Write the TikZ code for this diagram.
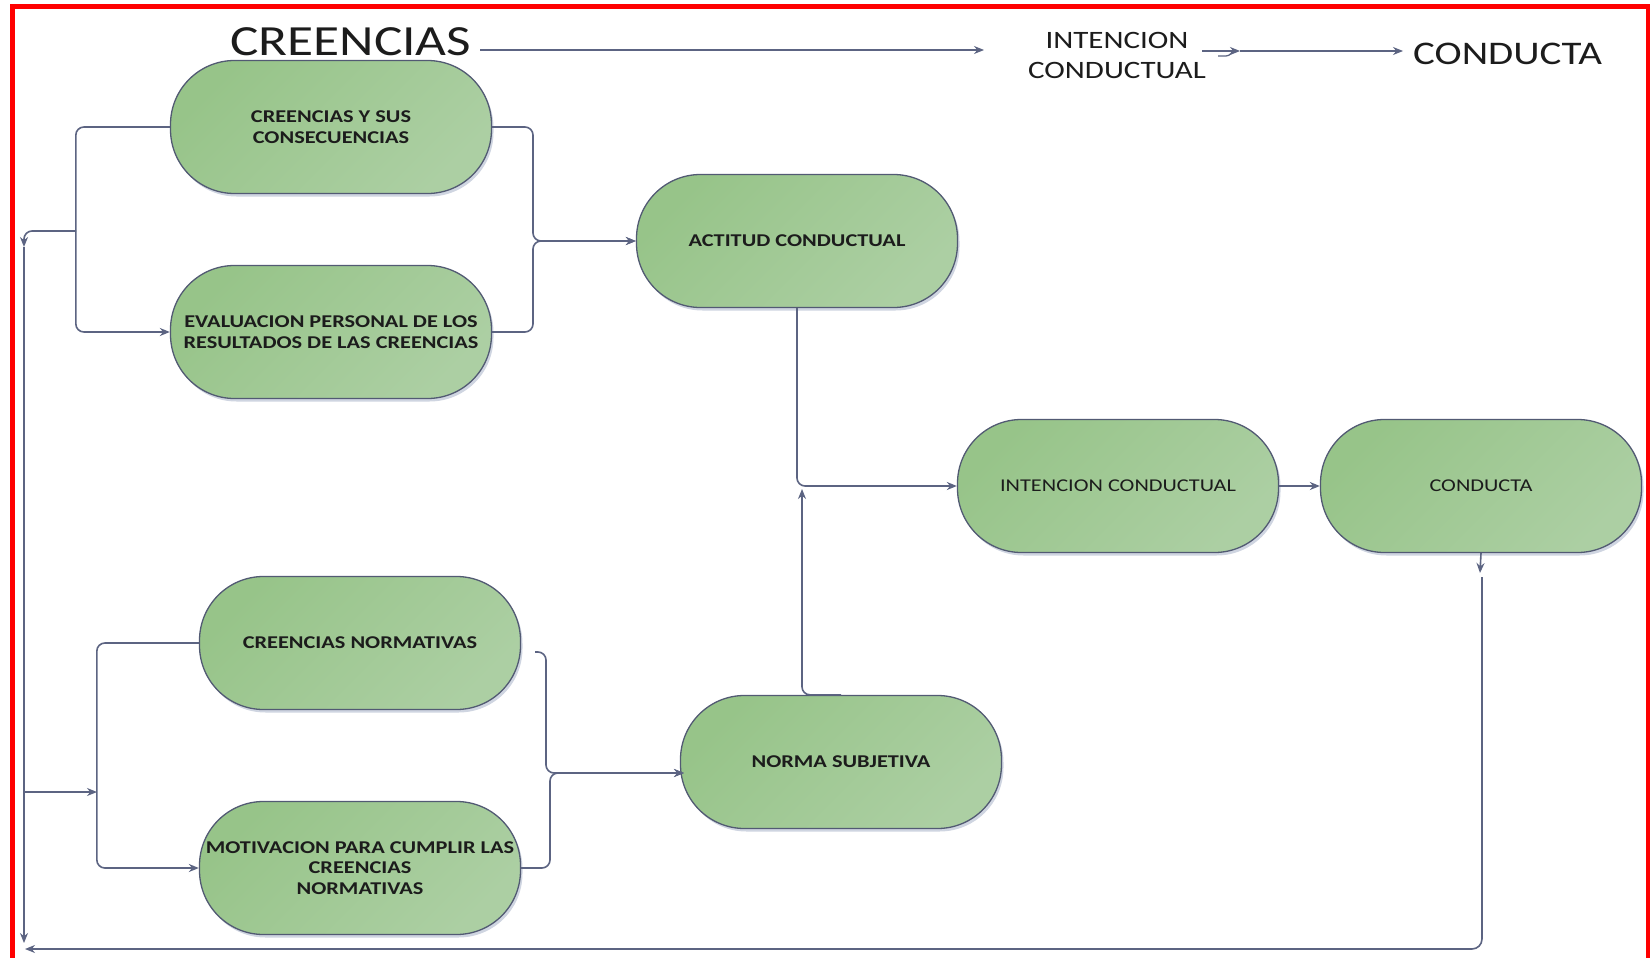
\documentclass[tikz,border=0pt]{standalone}
\usepackage{fontspec}
\setmainfont{Carlito}[FakeStretch=1.24]
\usetikzlibrary{arrows.meta,shadows,calc}
\definecolor{gA}{RGB}{151,196,137}
\definecolor{gB}{RGB}{172,207,163}
\definecolor{bord}{RGB}{82,90,115}
\definecolor{conn}{RGB}{92,100,130}
\definecolor{txt}{RGB}{28,28,28}
\definecolor{shad}{RGB}{175,185,205}
\begin{document}
\begin{tikzpicture}[x=1pt,y=-1pt,
  proc/.style={draw=bord, line width=1.3pt, rounded corners=64pt,
    minimum width=321pt, minimum height=133pt,
    top color=gA, bottom color=gB, shading angle=45,
    align=center, text=txt, inner sep=2pt,
    font=\fontsize{18}{20.5}\selectfont\bfseries,
    drop shadow={shadow xshift=2pt, shadow yshift=-3pt, fill=shad, opacity=0.6}},
  plain/.style={font=\fontsize{18}{20.5}\selectfont},
  link/.style={draw=conn, line width=1.6pt, rounded corners=8pt},
  arr/.style={link, -{Stealth[length=10pt,width=8pt]}},
  title/.style={text=txt, inner sep=0pt},
]
\useasboundingbox (0,0) rectangle (1650,958);
\fill[white] (0,0) rectangle (1650,958);
% red frame
\draw[red, line width=5pt] (12,975) -- (12,7) -- (1648,7) -- (1648,975);

% top line of labels
\node[title, anchor=base west, font=\fontsize{43}{43}\selectfont] (t1) at (230,56) {CREENCIAS};
\node[title, align=center, font=\fontsize{25}{30}\selectfont] (t2) at (1117,55) {INTENCION\\CONDUCTUAL};
\node[title, anchor=base west, font=\fontsize{33}{33}\selectfont] (t3) at (1413,65) {CONDUCTA};
\coordinate (c1) at (480,50);
\coordinate (c2) at (984,50);
\draw[arr, line width=1.3pt] (c1) -- (c2);
\coordinate (c3) at (1202,51);
\coordinate (c4) at (1240,51);
\coordinate (c5) at (1403,51);
\draw[arr, line width=1.3pt] (c3) -- (c4);
\draw[arr, line width=1.3pt] (c4) -- (c5);
\draw[link, line width=1.3pt, rounded corners=3pt] (1218,56) -- (1229,56) -- (1233,51);

% nodes
\node[proc] (n1) at (331,127) {CREENCIAS Y SUS\\CONSECUENCIAS};
\node[proc] (n2) at (331,332) {EVALUACION PERSONAL DE LOS\\RESULTADOS DE LAS CREENCIAS};
\node[proc] (n3) at (797,241) {ACTITUD CONDUCTUAL};
\node[proc, plain] (n4) at (1118,486) {INTENCION CONDUCTUAL};
\node[proc, plain] (n5) at (1481,486) {CONDUCTA};
\node[proc] (n6) at (360,643) {CREENCIAS NORMATIVAS};
\node[proc] (n7) at (360,868) {MOTIVACION PARA CUMPLIR LAS\\CREENCIAS\\NORMATIVAS};
\node[proc] (n8) at (841,762) {NORMA SUBJETIVA};

% left side: beliefs bracket
\draw[arr] (n1.west) -- ++(-94,0) |- (n2.west);
\coordinate (j1) at (76,231);
\coordinate (j2) at (24,247);
\coordinate (j3) at (24,943);
\coordinate (j4) at (24,792);
\coordinate (j5) at (97,792);
\draw[arr] (j1) -| (j2);
\draw[arr] (j2) -- (j3);
\draw[arr] (j4) -- (j5);
\draw[arr] (n6.west) -- ++(-102,0) |- (n7.west);

% right side braces
\coordinate (m1) at (533,241);
\draw[arr] (n1.east) -| (m1) -- (n3.west);
\draw[arr] (n2.east) -| (m1) -- (n3.west);
\coordinate (m2) at (535,652);
\coordinate (m3) at (546,773);
\coordinate (m4) at (550,773);
\coordinate (m5) at (684,773);
\draw[arr] (m2) -| (m3) -- (m5);
\draw[arr] (n7.east) -| (m4) -- (m5);

% attitude + norm to intention
\draw[arr] (n3.south) |- (n4.west);
\coordinate (k1) at (802,489);
\draw[arr] (n8.north) -| (k1);
\draw[arr] (n4.east) -- (n5.west);

% feedback from behaviour
\coordinate (p1) at (1480,573);
\coordinate (p2) at (1482,577);
\coordinate (p3) at (25,949);
\draw[arr] (n5.south) -- (p1);
\draw[arr, rounded corners=10pt] (p2) |- (p3);
\end{tikzpicture}
\end{document}
